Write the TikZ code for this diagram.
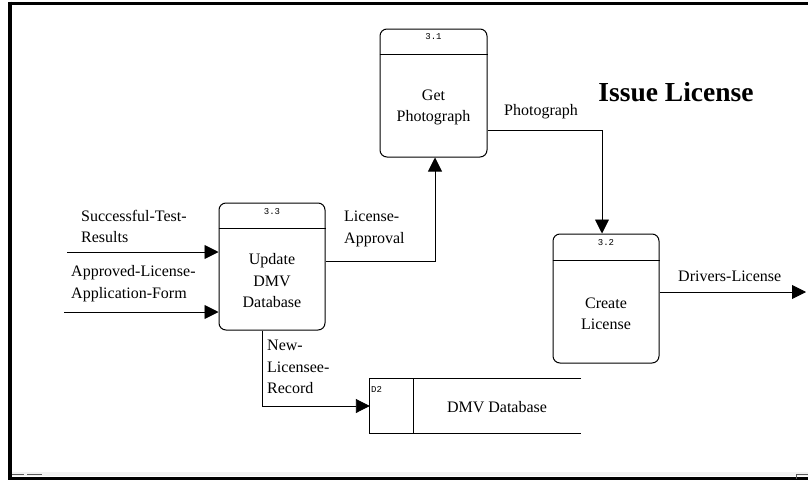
\documentclass[tikz,border=0pt]{standalone}
\usepackage{fontspec}
\setmainfont{Liberation Serif}
\newfontfamily\monof{Liberation Mono}
\usetikzlibrary{arrows.meta}
\tikzset{
  proc/.style={draw, line width=1pt, rounded corners=7pt, inner sep=0pt},
  txt/.style={inner sep=0pt, align=left, font=\fontsize{16}{21.5}\selectfont},
  ctxt/.style={inner sep=0pt, align=center, font=\fontsize{16}{21.5}\selectfont},
  num/.style={inner sep=0pt, font=\monof\fontsize{9}{10}\selectfont},
  flow/.style={line width=0.9pt, -{Triangle[length=14pt,width=14pt]}},
  frameline/.style={line width=3.5pt}
}
\begin{document}
\begin{tikzpicture}[x=1pt,y=-1pt]
\useasboundingbox (0,0) rectangle (808,479);
% frame
\fill[gray!10] (12,472) rectangle (808,476);
\draw[frameline] (8,3.3) -- (808,3.3);
\draw[frameline] (10,1.5) -- (10,479);
\draw[line width=3pt] (8,478) -- (808,478);
\draw[gray!70!black, line width=1pt] (12,474.5) -- (24,474.5) (27,474.5) -- (42,474.5);
\draw[gray!70!black, line width=1pt] (796,479) -- (796,474.5) -- (808,474.5);

% title
\node[inner sep=0pt, font=\bfseries\fontsize{27.5}{30}\selectfont] (title) at (676,92) {Issue License};

% processes
\node[proc, minimum width=107pt, minimum height=128pt] (p31) at (433.5,93) {};
\draw[line width=0.9pt] (p31.west |- 0,54) -- (p31.east |- 0,54);
\node[num] (n31) at (433.5,36.5) {3.1};
\node[ctxt] (t31) at (433.5,107.5) {Get\\Photograph};

\node[proc, minimum width=106pt, minimum height=127pt] (p33) at (272,266.5) {};
\draw[line width=0.9pt] (p33.west |- 0,228) -- (p33.east |- 0,228);
\node[num] (n33) at (272,211.5) {3.3};
\node[ctxt] (t33) at (272,281) {Update\\DMV\\Database};

\node[proc, minimum width=106pt, minimum height=129pt] (p32) at (606,298.5) {};
\draw[line width=0.9pt] (p32.west |- 0,260) -- (p32.east |- 0,260);
\node[num] (n32) at (606,243) {3.2};
\node[ctxt] (t32) at (606,314) {Create\\License};

% data store
\node[inner sep=0pt, minimum width=211pt, minimum height=54pt] (store) at (475.5,406) {};
\draw[line width=0.9pt] (store.north east) -- (store.north west) -- (store.south west) -- (store.south east);
\draw[line width=0.9pt] (413,379) -- (413,433);
\node[num, anchor=west] (d2) at (371,389) {D2};
\node[ctxt] (sname) at (497,407) {DMV Database};

% connectors
\coordinate (in1) at (67,252);
\coordinate (in2) at (64,312);
\draw[flow] (in1) -- (p33.west |- in1);
\draw[flow] (in2) -- (p33.west |- in2);
\node[txt, anchor=west] (l1) at (81,226.5) {Successful-Test-\\Results};
\node[txt, anchor=west] (l2) at (71,283.5) {Approved-License-\\Application-Form};

\coordinate (la) at (435,261);
\draw[flow] (p33.east |- la) -- (la) -- (la |- p31.south);
\node[txt, anchor=west] (l3) at (344,229) {License-\\Approval};

\coordinate (ph) at (602,130);
\draw[flow] (p31.east |- ph) -- (ph) -- (ph |- p32.north);
\node[txt, anchor=west] (l4) at (504,112) {Photograph};

\coordinate (dl) at (806,292);
\draw[flow] (p32.east |- dl) -- (dl);
\node[txt, anchor=west] (l5) at (678,276) {Drivers-License};

\coordinate (nr) at (262,406);
\draw[flow] (nr |- p33.south) -- (nr) -- (store.west |- nr);
\node[txt, anchor=west] (l6) at (267,367) {New-\\Licensee-\\Record};
\end{tikzpicture}
\end{document}
